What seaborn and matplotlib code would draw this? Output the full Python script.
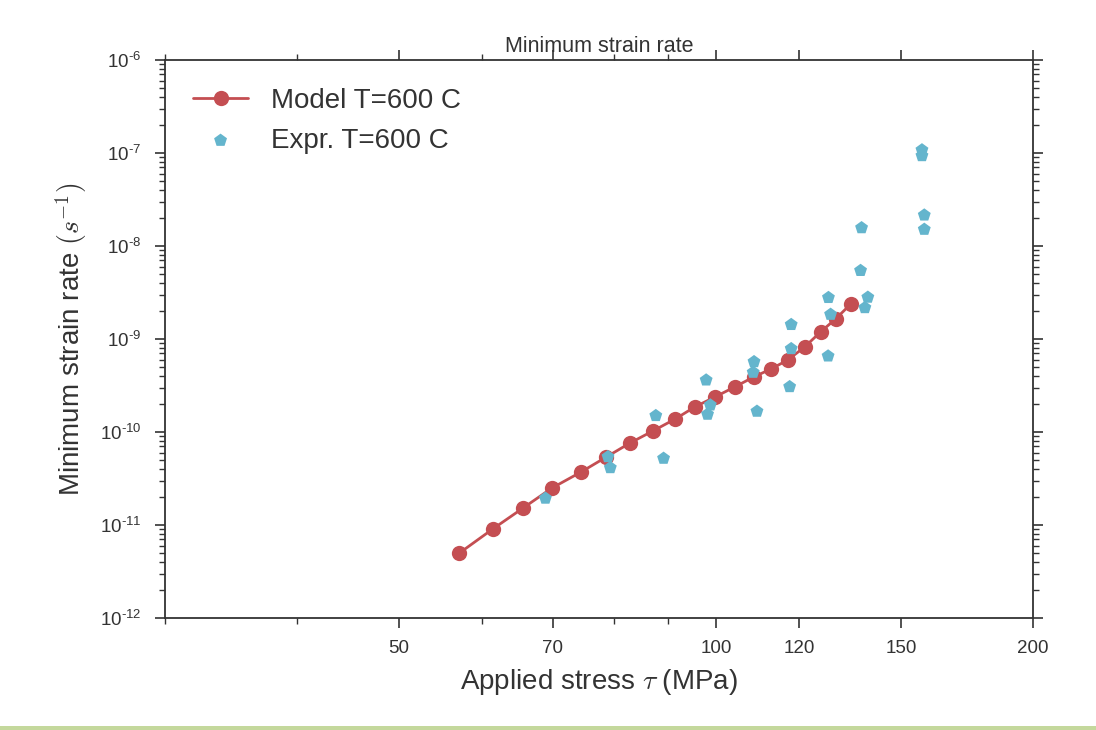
import numpy as np
import pandas as pd
import matplotlib
matplotlib.use("Agg")
import matplotlib.pyplot as plt
import matplotlib.ticker as mticker
from matplotlib.patches import Rectangle
import seaborn as sns

# ---- data ----
model_stress = [57.1, 61.4, 65.6, 69.9, 74.5, 78.7, 82.9, 87.2, 91.5, 95.5,
                99.8, 104.2, 108.6, 112.8, 117.0, 121.4, 125.7, 129.9, 134.3]
model_rate = [5.0e-12, 9.05e-12, 1.52e-11, 2.50e-11, 3.72e-11, 5.38e-11, 7.62e-11,
              1.03e-10, 1.38e-10, 1.86e-10, 2.38e-10, 3.05e-10, 3.90e-10, 4.76e-10,
              5.94e-10, 8.20e-10, 1.19e-9, 1.64e-9, 2.38e-9]
expr_stress = [68.9, 79.0, 79.4, 87.7, 89.2, 97.9, 98.8, 98.2, 108.7, 108.5, 109.4,
               117.9, 117.9, 117.5, 127.9, 128.5, 127.8, 137.5, 137.2, 139.4, 138.5,
               156.9, 156.9, 157.7, 157.7]
expr_rate = [1.94e-11, 5.42e-11, 4.13e-11, 1.50e-10, 5.21e-11, 3.62e-10, 1.95e-10,
             1.55e-10, 5.70e-10, 4.38e-10, 1.67e-10, 1.43e-9, 7.87e-10, 3.07e-10,
             2.79e-9, 1.84e-9, 6.56e-10, 1.57e-8, 5.45e-9, 2.81e-9, 2.17e-9,
             1.08e-7, 9.35e-8, 2.15e-8, 1.51e-8]
x_major_ticks = [50, 70, 100, 120, 150, 200]
x_minor_ticks = [30, 40, 60, 80, 90]

sns.set_style("ticks")
plt.rcParams['font.family'] = ['Liberation Sans', 'DejaVu Sans']
plt.rcParams['mathtext.fontset'] = 'cm'
txt = '#333333'

fig = plt.figure(figsize=(10.96, 7.30), dpi=100)
ax = fig.add_axes([165/1096, 1-618/730, (1033-165)/1096, (618-60)/730])

red = '#C44E52'
cyan = '#64B5CD'
sns.lineplot(x=model_stress, y=model_rate, ax=ax, color=red, lw=2,
             marker='o', markersize=11, markeredgewidth=0, label='Model T=600 C',
             sort=False)
sns.scatterplot(x=expr_stress, y=expr_rate, ax=ax, color=cyan, marker='p',
                s=95, edgecolor='none', linewidth=0, label='Expr. T=600 C', zorder=3)

ax.set_xscale('log')
ax.set_yscale('log')
ax.set_xlim(30, 200)
ax.set_ylim(1e-12, 1e-6)

ax.xaxis.set_major_locator(mticker.FixedLocator(x_major_ticks))
ax.xaxis.set_minor_locator(mticker.FixedLocator(x_minor_ticks))
ax.xaxis.set_major_formatter(mticker.FuncFormatter(lambda v, p: f"{v:g}"))
ax.xaxis.set_minor_formatter(mticker.NullFormatter())
ax.yaxis.set_major_locator(mticker.LogLocator(base=10, numticks=20))
ax.yaxis.set_minor_locator(mticker.LogLocator(base=10, subs=np.arange(2, 10), numticks=20))
ax.yaxis.set_major_formatter(mticker.FuncFormatter(
    lambda v, p: '$\\mathregular{10^{\u2010%d}}$' % abs(int(round(np.log10(v))))))
ax.yaxis.set_minor_formatter(mticker.NullFormatter())

for sp in ax.spines.values():
    sp.set_visible(True)
    sp.set_color('#333333')
    sp.set_linewidth(1.3)
ax.tick_params(which='both', direction='out', top=True, right=True, color='#333333',
               labelcolor=txt)
ax.tick_params(which='major', length=7, width=1.2)
ax.tick_params(which='minor', length=4, width=1.0)
ax.tick_params(axis='x', which='major', labelsize=13.5, pad=9)
ax.tick_params(axis='y', which='major', labelsize=13.5, pad=10)

ax.set_title('Minimum strain rate', fontsize=15.5, color=txt, pad=6)
ax.set_xlabel(r'Applied stress $\tau$ (MPa)', fontsize=20, color=txt, labelpad=7)
ax.set_ylabel(r'Minimum strain rate $(s^{-1})$', fontsize=20, color=txt, labelpad=8)

leg = ax.legend(loc='upper left', frameon=False, fontsize=20, numpoints=1,
                scatterpoints=1, handlelength=2.0, borderaxespad=0.6,
                labelspacing=0.5, handletextpad=0.8)
for t in leg.get_texts():
    t.set_color(txt)

fig.patches.append(Rectangle((0, 0), 1, 4/730, transform=fig.transFigure,
                             facecolor='#c4d89c', edgecolor='none', zorder=-1))

fig.savefig('out.png', dpi=100, facecolor='white')
